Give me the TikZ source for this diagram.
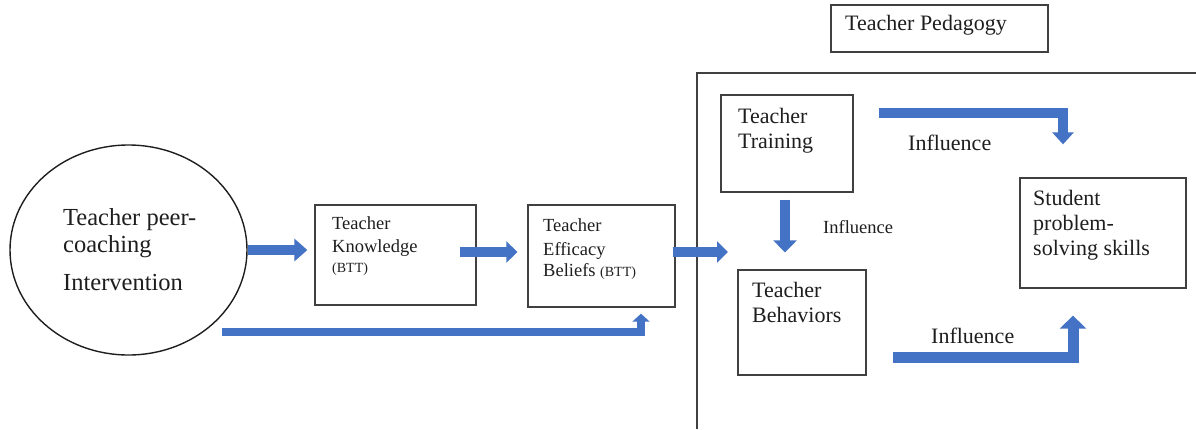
\documentclass[tikz,border=0pt]{standalone}
\usepackage{fontspec}
\setmainfont{Liberation Serif}
\usetikzlibrary{arrows.meta,shapes.geometric}
\definecolor{flowblue}{RGB}{68,114,196}
\definecolor{inkgray}{RGB}{30,30,30}
\newcommand{\fsz}[1]{\fontsize{#1}{#1}\selectfont}
\tikzset{
  framebox/.style={draw=inkgray!85, line width=1.3pt, rectangle, inner sep=0pt},
  txt/.style={inner sep=0pt, anchor=base west, text=inkgray},
  bigtxt/.style={txt, font=\fsz{24.5}},
  midtxt/.style={txt, font=\fsz{22}},
  smalltxt/.style={txt, font=\fsz{18.5}},
  flow/.style={draw=flowblue, line width=10pt, line join=miter,
    -{Triangle[width=22pt,length=12pt]}},
  flowthin/.style={draw=flowblue, line width=8pt, line join=miter,
    -{Triangle[width=17pt,length=8pt]}}
}
\begin{document}
\begin{tikzpicture}[x=1pt, y=-1pt]
\useasboundingbox (0,0) rectangle (1196,429);

% left part: intervention and teacher beliefs
\node[draw=inkgray, line width=1.4pt, ellipse, minimum width=237pt, minimum height=210pt, inner sep=0pt] (ell) at (128.5,250) {};
\node[bigtxt] (e1) at (63,225) {Teacher peer-};
\node[bigtxt] (e2) at (63,252) {coaching};
\node[bigtxt] (e3) at (63,290) {Intervention};

\node[framebox, minimum width=161pt, minimum height=100pt] (know) at (395.5,255) {};
\node[smalltxt] (k1) at (332,229) {Teacher};
\node[smalltxt] (k2) at (332,252) {Knowledge};
\node[txt, font=\fsz{14}] (k3) at (332,272) {(BTT)};

\node[framebox, minimum width=147pt, minimum height=102pt] (eff) at (601.5,256) {};
\node[smalltxt] (b1) at (543,231) {Teacher};
\node[smalltxt] (b2) at (543,255) {Efficacy};
\node[smalltxt] (b3) at (543,276) {Beliefs {\fsz{14}(BTT)}};

% teacher pedagogy region
\node[framebox, minimum width=217pt, minimum height=47pt] (ped) at (939.5,28.5) {};
\node[midtxt] (p1) at (845,30) {Teacher Pedagogy};
\draw[draw=inkgray!85, line width=1.3pt] (697,429) -- (697,73) -- (1196,73);
\coordinate (pedin) at (728,252);

\node[framebox, minimum width=132pt, minimum height=97pt] (train) at (787,143.5) {};
\node[midtxt] (r1) at (738,123) {Teacher};
\node[midtxt] (r2) at (738,148) {Training};

\node[framebox, minimum width=128pt, minimum height=105pt] (behav) at (802,322.5) {};
\node[midtxt] (h1) at (752,297) {Teacher};
\node[midtxt] (h2) at (752,322) {Behaviors};

\node[framebox, minimum width=166pt, minimum height=110pt] (stud) at (1103,233) {};
\node[midtxt] (s1) at (1033,205) {Student};
\node[midtxt] (s2) at (1033,230) {problem-};
\node[midtxt] (s3) at (1033,255) {solving skills};

\node[midtxt] (i1) at (908,150) {Influence};
\node[smalltxt] (i2) at (823,233) {Influence};
\node[midtxt] (i3) at (931,343) {Influence};

% connectors
\draw[flow, -{Triangle[width=22pt,length=13pt]}] (ell.east) -- ([xshift=-7pt]ell.east -| know.west);
\draw[flow, -{Triangle[width=21pt,length=11pt]}] ([xshift=-17pt,yshift=3pt]know.east) -- ([xshift=-10pt,yshift=4pt]eff.west);
\draw[flow, -{Triangle[width=21pt,length=11pt]}] ([xshift=-3pt,yshift=4pt]eff.east) -- (pedin);
\coordinate (bstart) at (222,332);
\draw[flowthin] (bstart) -| ([xshift=39.5pt,yshift=-6pt]eff.south);

\draw[flow, -{Triangle[width=21pt,length=12pt]}] ([xshift=25pt,yshift=30.5pt]train.east) -| ([xshift=-40pt,yshift=33pt]stud.north);
\draw[flow, -{Triangle[width=23pt,length=12pt]}] ([xshift=-2pt,yshift=-7pt]train.south) -- ([xshift=-17pt,yshift=17pt]behav.north);
\draw[flow, line width=11pt, -{Triangle[width=26pt,length=13pt]}] ([xshift=26pt,yshift=-34.5pt]behav.east) -| ([xshift=-30pt,yshift=-27pt]stud.south);
\end{tikzpicture}
\end{document}
